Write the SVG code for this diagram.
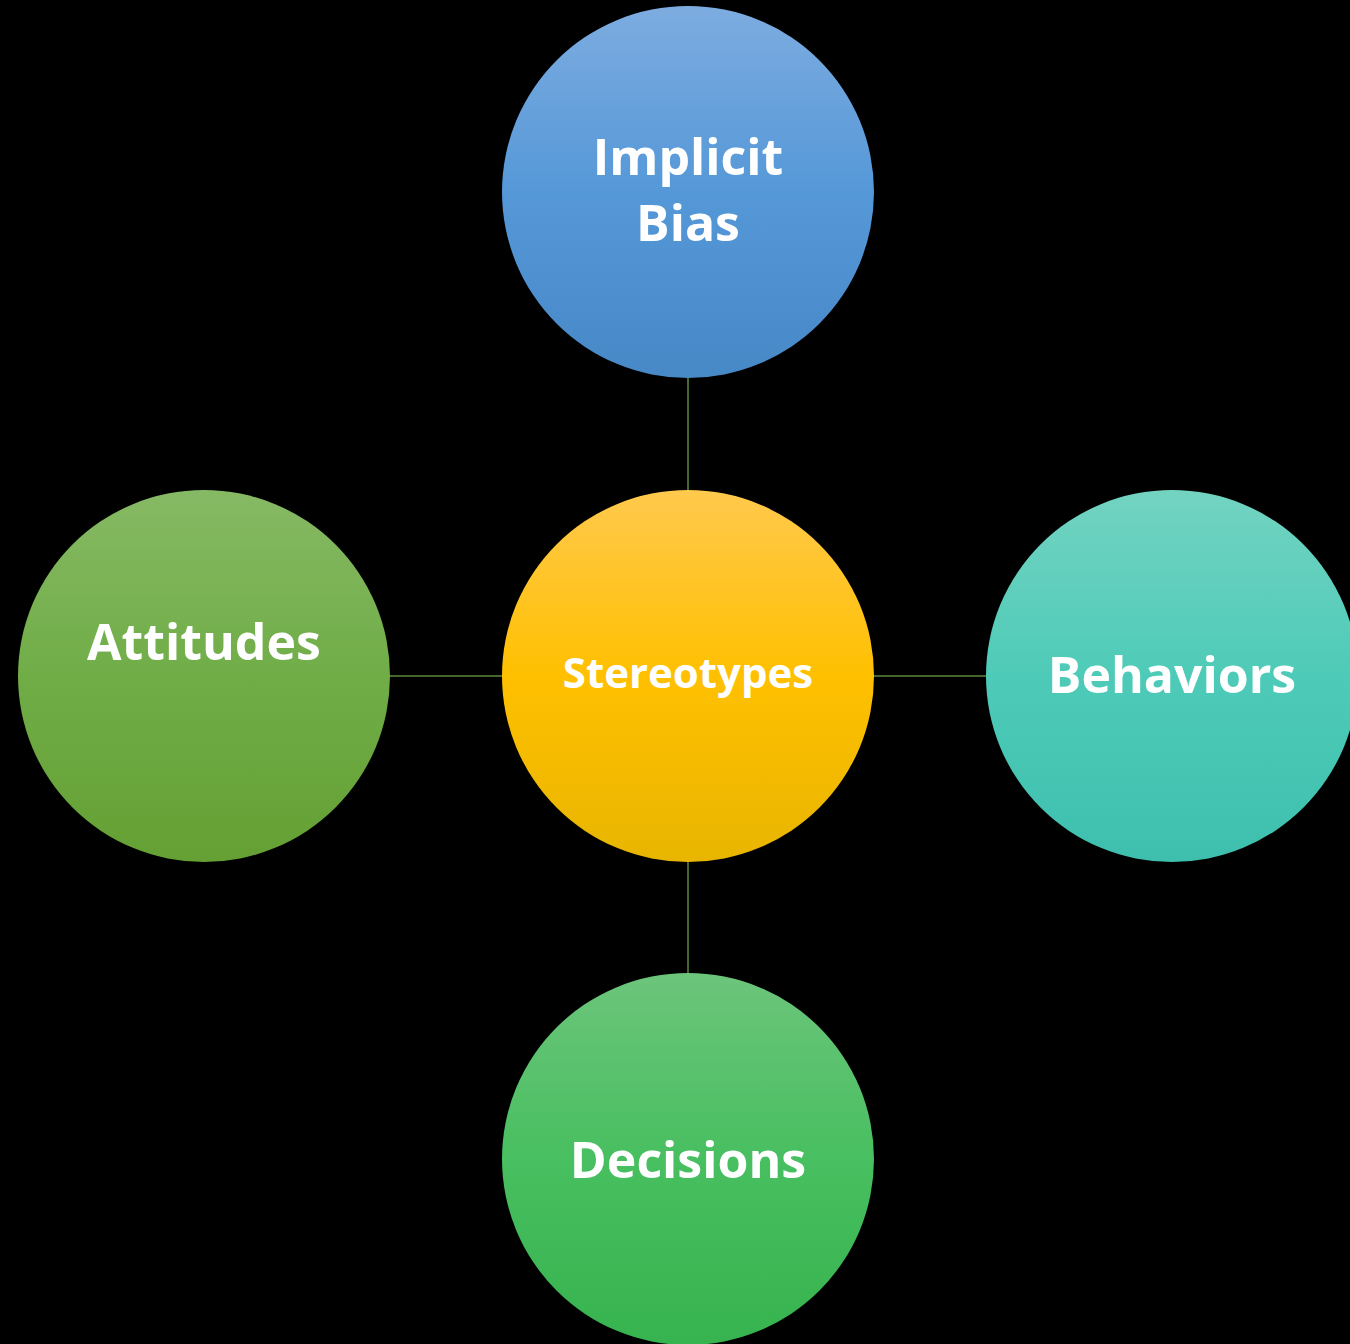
<svg xmlns="http://www.w3.org/2000/svg" width="1350" height="1344" viewBox="0 0 1350 1344">
<style>
.lbl{font-family:"Open Sans","Liberation Sans",sans-serif;font-weight:700;fill:#ffffff;text-anchor:middle}
.big{font-size:50px}
.mid{font-size:42px}
.conn{stroke:#5E8A3A;stroke-width:1.5;fill:none}
</style>
<defs>
<linearGradient id="gBlue" x1="0" y1="0" x2="0" y2="1">
<stop offset="0" stop-color="#7DACE0"/><stop offset="0.5" stop-color="#5598D8"/><stop offset="1" stop-color="#4788C7"/>
</linearGradient>
<linearGradient id="gYellow" x1="0" y1="0" x2="0" y2="1">
<stop offset="0" stop-color="#FFC94D"/><stop offset="0.5" stop-color="#FFC000"/><stop offset="1" stop-color="#E8B500"/>
</linearGradient>
<linearGradient id="gOlive" x1="0" y1="0" x2="0" y2="1">
<stop offset="0" stop-color="#86B964"/><stop offset="0.5" stop-color="#70AD47"/><stop offset="1" stop-color="#64A033"/>
</linearGradient>
<linearGradient id="gTeal" x1="0" y1="0" x2="0" y2="1">
<stop offset="0" stop-color="#73D3C1"/><stop offset="0.5" stop-color="#4ECBB8"/><stop offset="1" stop-color="#3EBFAE"/>
</linearGradient>
<linearGradient id="gGreen" x1="0" y1="0" x2="0" y2="1">
<stop offset="0" stop-color="#6CC57B"/><stop offset="0.5" stop-color="#48BF60"/><stop offset="1" stop-color="#36B34E"/>
</linearGradient>
</defs>
<rect width="1350" height="1344" fill="#000000"/>
<g id="connectors">
<line class="conn" x1="688" y1="377" x2="688" y2="491"/>
<line class="conn" x1="389" y1="676" x2="503" y2="676"/>
<line class="conn" x1="873" y1="676" x2="987" y2="676"/>
<line class="conn" x1="688" y1="861" x2="688" y2="975"/>
</g>
<g id="implicit-bias">
<circle cx="688" cy="192" r="186" fill="url(#gBlue)"/>
<text class="lbl big" x="688" y="175">Implicit</text>
<text class="lbl big" x="688" y="241">Bias</text>
</g>
<g id="stereotypes">
<circle cx="688" cy="676" r="186" fill="url(#gYellow)"/>
<text class="lbl mid" x="688" y="688">Stereotypes</text>
</g>
<g id="attitudes">
<circle cx="204" cy="676" r="186" fill="url(#gOlive)"/>
<text class="lbl big" x="204" y="660">Attitudes</text>
</g>
<g id="behaviors">
<circle cx="1172" cy="676" r="186" fill="url(#gTeal)"/>
<text class="lbl big" x="1172" y="693">Behaviors</text>
</g>
<g id="decisions">
<circle cx="688" cy="1159" r="186" fill="url(#gGreen)"/>
<text class="lbl big" x="688" y="1178">Decisions</text>
</g>
</svg>
